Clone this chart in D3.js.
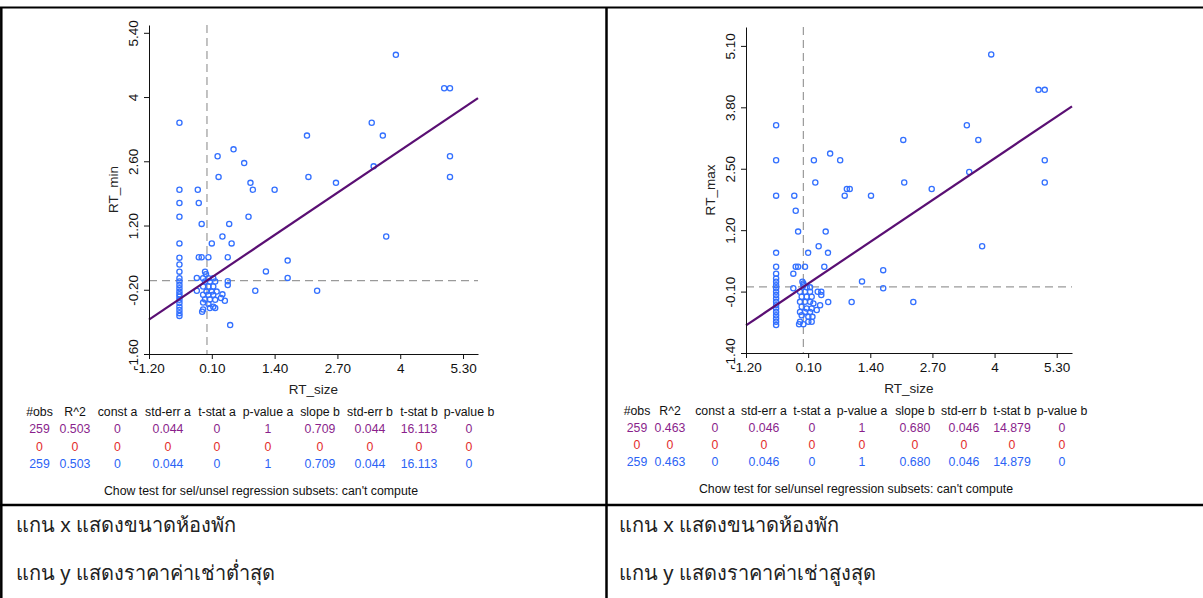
<!DOCTYPE html>
<html>
<head>
<meta charset="utf-8">
<script src="https://cdn.jsdelivr.net/npm/d3@7"></script>
<style>
  html, body { margin: 0; padding: 0; background: #fff; }
  svg { display: block; }
  text { font-family: "Liberation Sans", Arial, Helvetica, sans-serif; }
  .thai { font-family: "Noto Sans", "DejaVu Sans", sans-serif; }
</style>
</head>
<body>
<svg id="chart" width="1203" height="598"></svg>
<script>
// ---------------- DATA ----------------
const xTickValues = [-1.2, 0.1, 1.4, 2.7, 4, 5.3];
const xTickLabels = ["-1.20", "0.10", "1.40", "2.70", "4", "5.30"];
const minTickValues = [-1.6, -0.2, 1.2, 2.6, 4, 5.4];
const minTickLabels = ["-1.60", "-0.20", "1.20", "2.60", "4", "5.40"];
const maxTickValues = [-1.4, -0.1, 1.2, 2.5, 3.8, 5.1];
const maxTickLabels = ["-1.40", "-0.10", "1.20", "2.50", "3.80", "5.10"];

// RT_size vs RT_min (standardized)
const sizeMin = [-0.57,3.91,4.91,5.03,3.41,3.64,2.07,0.55,0.22,5.03,0.77,3.45,0.24,2.10,5.03,0.90,2.67,-0.57,-0.19,0.95,1.40,-0.57,-0.17,-0.57,0.86,-0.11,0.46,0.32,3.71,-0.57,0.10,0.51,-0.17,-0.11,0.03,0.43,1.67,1.22,-0.21,1.67,0.43,0.43,1.00,2.28,0.32,0.37,0.29,0.48,-0.21,
  -0.57,-0.57,-0.57,-0.57,-0.57,-0.57,-0.57,-0.57,-0.57,-0.57,-0.57,-0.57,-0.57,-0.57,-0.57,-0.57,
  -0.04,-0.02,-0.08,0.03,0.13,-0.04,0.06,0.17,-0.08,0.03,0.13,-0.01,0.10,0.20,-0.08,0.03,0.13,-0.04,0.06,0.17,-0.08,0.03,0.13,-0.08,0.06,-0.10,0.17];
const rtMin = [3.44,4.92,4.19,4.19,3.44,3.16,3.16,2.86,2.71,2.71,2.56,2.49,2.26,2.26,2.26,2.13,2.13,1.98,1.98,1.98,1.98,1.69,1.69,1.39,1.39,1.235,1.235,0.96,0.96,0.81,0.81,0.81,0.51,0.51,0.51,0.51,0.435,0.20,0.058,0.058,-0.014,-0.095,-0.22,-0.22,-0.30,-0.44,-0.38,-0.97,-0.22,
  0.50,0.35,0.195,0.05,-0.02,-0.095,-0.167,-0.24,-0.30,-0.35,-0.42,-0.49,-0.57,-0.64,-0.71,-0.77,
  0.195,0.137,0.05,0.05,0.05,-0.02,-0.02,-0.02,-0.13,-0.13,-0.13,-0.24,-0.24,-0.24,-0.31,-0.31,-0.31,-0.41,-0.41,-0.42,-0.48,-0.51,-0.57,-0.63,-0.60,-0.68,-0.60];

// RT_size vs RT_max (standardized)
const sizeMax = [-0.57,3.93,4.92,5.05,3.42,3.66,2.09,0.56,-0.57,0.22,0.77,5.05,3.47,0.25,2.11,5.05,0.91,0.97,2.685,-0.57,-0.19,0.865,1.415,-0.16,-0.11,0.467,0.32,3.74,-0.57,0.10,0.515,-0.16,-0.11,0.034,0.438,1.67,-0.21,1.227,-0.21,1.67,0.30,0.375,0.375,1.01,2.30,0.52,0.35,-0.02,0.0,
  -0.57,-0.57,-0.57,-0.57,-0.57,-0.57,-0.57,-0.57,-0.57,-0.57,-0.57,-0.57,-0.57,-0.57,-0.57,-0.57,-0.57,
  0.0,0.07,0.14,-0.07,0.034,0.14,-0.035,0.07,0.174,-0.07,0.034,0.14,0.21,-0.035,0.07,0.174,-0.07,0.034,0.14,0.28,-0.035,0.104,0.19,-0.07,0.104,0.174,-0.09,0.0];
const rtMax = [3.42,4.92,4.17,4.17,3.42,3.11,3.11,2.82,2.68,2.68,2.68,2.68,2.43,2.21,2.21,2.21,2.07,2.07,2.07,1.93,1.93,1.93,1.93,1.61,1.17,1.17,0.86,0.86,0.72,0.72,0.72,0.425,0.425,0.425,0.425,0.354,0.28,0.115,-0.03,-0.03,-0.105,-0.105,-0.175,-0.32,-0.32,-0.32,-0.39,0.107,0.036,
  0.425,0.28,0.178,0.107,0.036,-0.03,-0.105,-0.175,-0.245,-0.317,-0.387,-0.457,-0.53,-0.60,-0.67,-0.74,-0.81,
  0.07,-0.01,-0.01,-0.105,-0.105,-0.105,-0.21,-0.21,-0.21,-0.317,-0.317,-0.317,-0.35,-0.42,-0.457,-0.457,-0.53,-0.53,-0.53,-0.49,-0.60,-0.635,-0.635,-0.74,-0.74,-0.74,-0.79,-0.79];

// regression slopes (intercept 0)
const slopeMin = 0.709;
const slopeMax = 0.680;

const statHeaders = ["#obs","R^2","const a","std-err a","t-stat a","p-value a","slope b","std-err b","t-stat b","p-value b"];
const statsMinAll   = ["259","0.503","0","0.044","0","1","0.709","0.044","16.113","0"];
const statsMinSel   = ["0","0","0","0","0","0","0","0","0","0"];
const statsMinUnsel = ["259","0.503","0","0.044","0","1","0.709","0.044","16.113","0"];
const statsMaxAll   = ["259","0.463","0","0.046","0","1","0.680","0.046","14.879","0"];
const statsMaxSel   = ["0","0","0","0","0","0","0","0","0","0"];
const statsMaxUnsel = ["259","0.463","0","0.046","0","1","0.680","0.046","14.879","0"];
const chowText = "Chow test for sel/unsel regression subsets: can't compute";

const captionsLeft = ["แกน x แสดงขนาดห้องพัก", "แกน y แสดงราคาค่าเช่าต่ำสุด"];
const captionsRight = ["แกน x แสดงขนาดห้องพัก", "แกน y แสดงราคาค่าเช่าสูงสุด"];

// ---------------- DRAW ----------------
const svg = d3.select("#chart");
const rowColors = ["#8a1f8c", "#e32b2b", "#2b63f5"];
const pointColor = "#3370ff";
const lineColor = "#5a0f73";

function panel(opt) {
  const g = svg.append("g");
  const x = d3.scaleLinear().domain(opt.xDomain).range(opt.xRange);
  const y = d3.scaleLinear().domain(opt.yDomain).range(opt.yRange);

  // dashed mean lines
  g.append("line")
    .attr("x1", x(0)).attr("x2", x(0))
    .attr("y1", opt.yRange[1]).attr("y2", opt.yRange[0])
    .attr("stroke", "#9a9a9a").attr("stroke-width", 1.2).attr("stroke-dasharray", "8,5");
  g.append("line")
    .attr("x1", opt.xRange[0]).attr("x2", opt.xRange[1])
    .attr("y1", y(0)).attr("y2", y(0))
    .attr("stroke", "#9a9a9a").attr("stroke-width", 1.2).attr("stroke-dasharray", "8,5");

  // points
  g.append("g").selectAll("circle")
    .data(d3.range(opt.xs.length))
    .join("circle")
    .attr("cx", i => x(opt.xs[i]))
    .attr("cy", i => y(opt.ys[i]))
    .attr("r", 2.6)
    .attr("fill", "none")
    .attr("stroke", pointColor)
    .attr("stroke-width", 1.3);

  // regression line
  const x0 = opt.xDomain[0], x1 = opt.xDomain[1];
  g.append("line")
    .attr("x1", x(x0)).attr("y1", y(opt.slope * x0))
    .attr("x2", x(x1)).attr("y2", y(opt.slope * x1))
    .attr("stroke", lineColor).attr("stroke-width", 2.2);

  // axes
  const xAxis = d3.axisBottom(x).tickValues(xTickValues)
    .tickFormat((d, i) => xTickLabels[i]).tickSize(5).tickSizeOuter(0);
  const gx = g.append("g").attr("transform", `translate(0,${opt.yRange[0]})`).call(xAxis);
  gx.selectAll("text").attr("font-size", 13.5).attr("fill", "#111").attr("y", 9).attr("dy", "0.71em")
    .attr("font-family", "Liberation Sans, Arial, sans-serif");

  const yAxis = d3.axisLeft(y).tickValues(opt.yTicks)
    .tickFormat((d, i) => opt.yLabels[i]).tickSize(5).tickSizeOuter(0);
  const gy = g.append("g").attr("transform", `translate(${opt.xRange[0]},0)`).call(yAxis);
  gy.selectAll("text").attr("font-size", 13.5).attr("fill", "#111")
    .attr("transform", "rotate(-90)").attr("text-anchor", "middle")
    .attr("x", 0).attr("y", -11).attr("dy", 0)
    .attr("font-family", "Liberation Sans, Arial, sans-serif");
  g.selectAll(".domain, .tick line").attr("stroke", "#111");

  // axis titles
  g.append("text").attr("x", (opt.xRange[0] + opt.xRange[1]) / 2).attr("y", opt.yRange[0] + 40)
    .attr("text-anchor", "middle").attr("font-size", 13.5).attr("fill", "#222").text("RT_size");
  const yc = (opt.yRange[0] + opt.yRange[1]) / 2;
  g.append("text").attr("transform", `translate(${opt.xRange[0] - 31},${yc}) rotate(-90)`)
    .attr("text-anchor", "middle").attr("font-size", 13.5).attr("fill", "#222").text(opt.yTitle);

  // stats table
  const rows = [statHeaders].concat(opt.stats);
  rows.forEach((row, r) => {
    g.append("g").selectAll("text").data(row).join("text")
      .attr("x", (d, i) => opt.cols[i])
      .attr("y", opt.rowY[r])
      .attr("dy", "0.35em")
      .attr("text-anchor", "middle")
      .attr("font-size", 12.3)
      .attr("fill", r === 0 ? "#111" : rowColors[r - 1])
      .text(d => d);
  });
  g.append("text").attr("x", opt.chowX).attr("y", opt.chowY).attr("dy", "0.35em")
    .attr("text-anchor", "middle").attr("font-size", 12.3).attr("fill", "#111").text(chowText);

  // captions
  opt.captions.forEach((c, i) => {
    g.append("text").attr("class", "thai")
      .attr("x", opt.capX).attr("y", opt.capY[i])
      .attr("font-size", 20).attr("fill", "#222").text(c);
  });
}

panel({
  xDomain: [-1.2, 5.61], xRange: [149, 478],
  yDomain: [-1.6, 5.57], yRange: [354, 25],
  yTicks: minTickValues, yLabels: minTickLabels, yTitle: "RT_min",
  xs: sizeMin, ys: rtMin, slope: slopeMin,
  stats: [statsMinAll, statsMinSel, statsMinUnsel],
  cols: [39.5, 75, 117.5, 168, 217, 268, 320, 370, 419, 469],
  rowY: [412, 429, 447, 464], chowX: 261, chowY: 491,
  captions: captionsLeft, capX: 16, capY: [532, 580]
});

panel({
  xDomain: [-1.2, 5.62], xRange: [746, 1072],
  yDomain: [-1.4, 5.5], yRange: [353, 27],
  yTicks: maxTickValues, yLabels: maxTickLabels, yTitle: "RT_max",
  xs: sizeMax, ys: rtMax, slope: slopeMax,
  stats: [statsMaxAll, statsMaxSel, statsMaxUnsel],
  cols: [637, 670, 715, 764, 812, 862, 915, 964, 1012, 1062],
  rowY: [411, 428, 445, 462], chowX: 856, chowY: 489,
  captions: captionsRight, capX: 619, capY: [532, 580]
});

// table borders
const borders = svg.append("g").attr("stroke", "#000").attr("stroke-width", 2.5);
borders.append("line").attr("x1", 0).attr("x2", 1203).attr("y1", 7.5).attr("y2", 7.5).attr("stroke-width", 2);
borders.append("line").attr("x1", 1.3).attr("x2", 1.3).attr("y1", 7).attr("y2", 598);
borders.append("line").attr("x1", 606.5).attr("x2", 606.5).attr("y1", 7).attr("y2", 598);
borders.append("line").attr("x1", 0).attr("x2", 1203).attr("y1", 505).attr("y2", 505);
</script>
</body>
</html>
